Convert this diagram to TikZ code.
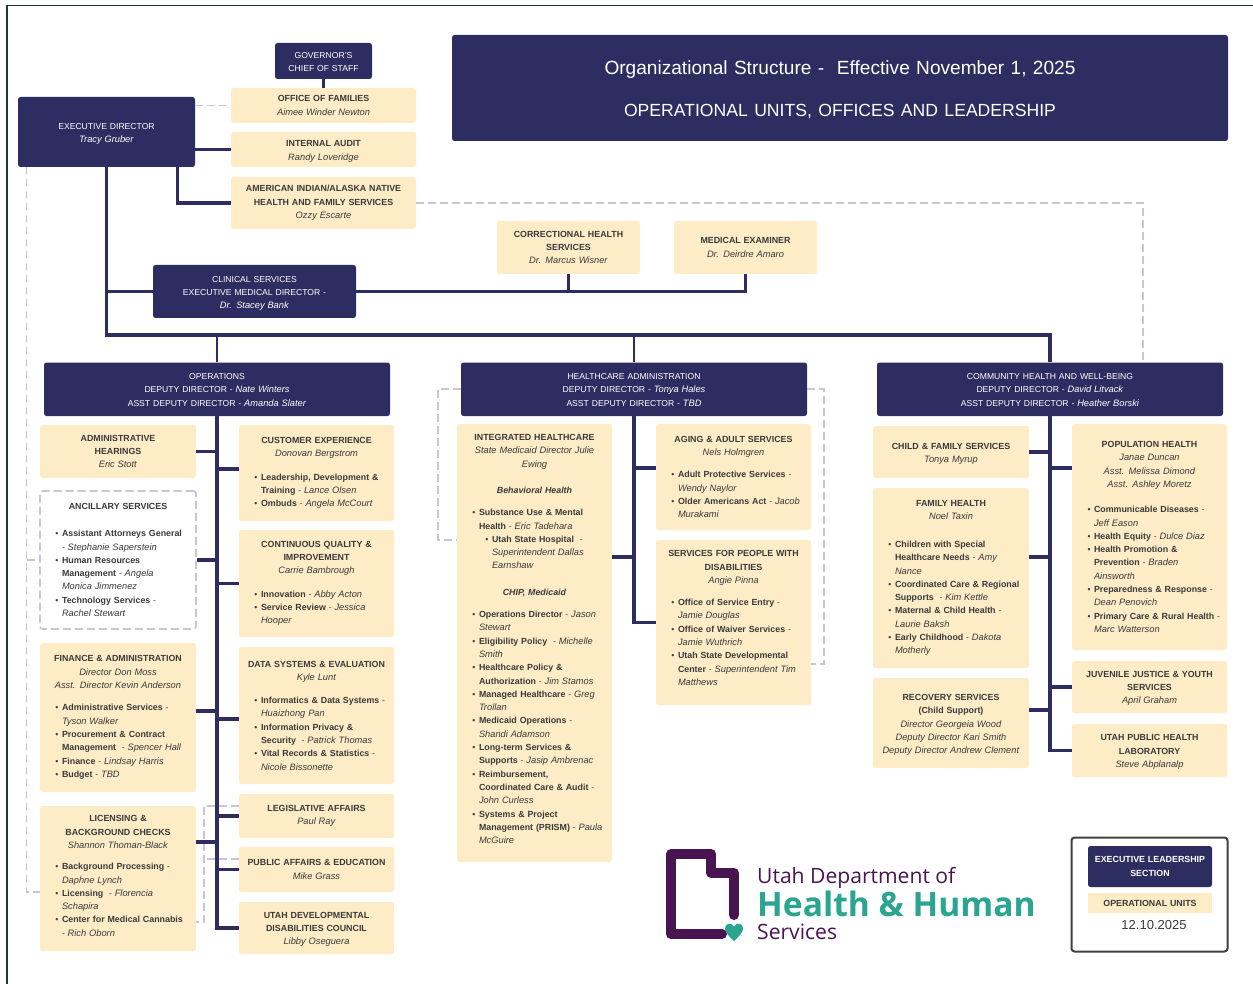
\documentclass[tikz,border=0pt]{standalone}
\usepackage{fontspec}
\setmainfont{Liberation Sans}[BoldFeatures={Scale=1.03},ItalicFeatures={Scale=1.08},BoldItalicFeatures={Scale=1.03}]
\newfontfamily\logofont{Open Sans}
\definecolor{dhhsnavy}{RGB}{46,45,98}
\definecolor{dhhscream}{RGB}{254,236,198}
\definecolor{dhhstext}{RGB}{58,58,58}
\definecolor{dhhsdash}{RGB}{197,197,220}
\definecolor{dhhsframe}{RGB}{30,58,42}
\definecolor{dhhspurple}{RGB}{72,20,82}
\definecolor{dhhsteal}{RGB}{42,165,143}
\newcommand{\bul}[1]{\leavevmode\hbox to\hsize{\hspace{22pt}\llap{\textbullet\hspace{3.5pt}}#1\hfil}}
\newcommand{\cnt}[1]{\leavevmode\hbox to\hsize{\hspace{22pt}#1\hfil}}
\newcommand{\subbul}[1]{\leavevmode\hbox to\hsize{\hspace{35pt}\llap{\textbullet\hspace{3.5pt}}#1\hfil}}
\newcommand{\subcnt}[1]{\leavevmode\hbox to\hsize{\hspace{35pt}#1\hfil}}
\newcommand{\lift}[1]{\\[\dimexpr#1pt*2-\baselineskip\relax]\mbox{}}
\tikzset{
    box size/.style 2 args={text width=#1pt,minimum width=#1pt,minimum height=#2pt},
    unit box/.style={
        rectangle,
        rounded corners=2.5pt,
        fill=dhhscream,
        text=dhhstext,
        inner xsep=0pt,
        inner ysep=0pt,
        align=center,
        font=\fontsize{8.6}{13.3}\selectfont,
    },
    lead box/.style={unit box,fill=dhhsnavy,text=white},
    dash box/.style={unit box,fill=none,draw=dhhsdash,line width=1.6pt,dash pattern=on 8pt off 4pt},
    conn/.style={draw=dhhsnavy,line width=3.5pt},
    thin conn/.style={draw=dhhsnavy,line width=2.8pt},
    dash conn/.style={draw=dhhsdash,line width=1.6pt,dash pattern=on 8pt off 4pt},
    logo text/.style={anchor=base west,inner sep=0pt,font=\logofont},
}
\begin{document}
\begin{tikzpicture}[x=1pt,y=-1pt]
\useasboundingbox (0,0) rectangle (1253,984);
\fill[white] (0,0) rectangle (1253,984);
\draw[dhhsframe,line width=1.8pt] (7,984) -- (7,5.5) -- (1253,5.5);

%Title
\node[lead box,box size={776}{106},font=\fontsize{19.1}{42}\selectfont] (title) at (840,88) {Organizational Structure -\ \ Effective November 1, 2025\\{\fontsize{17.6}{42}\selectfont OPERATIONAL UNITS, OFFICES AND LEADERSHIP}\lift{-1}};

%Executive level
\node[lead box,box size={97}{36}] (gov) at (323.5,61) {GOVERNOR'S\\CHIEF OF STAFF\lift{-1}};
\node[lead box,box size={177}{70}] (exec) at (106.5,132) {EXECUTIVE DIRECTOR\\\textit{Tracy Gruber}\lift{-1}};
\node[unit box,box size={185}{35}] (families) at (323.5,105.5) {\textbf{OFFICE OF FAMILIES}\\\textit{Aimee Winder Newton}};
\node[unit box,box size={185}{35}] (audit) at (323.5,149.5) {\textbf{INTERNAL AUDIT}\\\textit{Randy Loveridge}\lift{-1}};
\node[unit box,box size={185}{52}] (aian) at (323.5,203) {\textbf{AMERICAN INDIAN/ALASKA NATIVE}\\\textbf{HEALTH AND FAMILY SERVICES}\\\textit{Ozzy Escarte}};
\node[lead box,box size={203}{53}] (clinical) at (254.5,291.5) {CLINICAL SERVICES\\EXECUTIVE MEDICAL DIRECTOR -\\\textit{Dr. Stacey Bank}\lift{-1}};
\node[unit box,box size={143}{53}] (correctional) at (568.5,247.5) {\textbf{CORRECTIONAL HEALTH}\\\textbf{SERVICES}\\\textit{Dr. Marcus Wisner}};
\node[unit box,box size={143}{53}] (examiner) at (745.5,247.5) {\textbf{MEDICAL EXAMINER}\\\textit{Dr. Deirdre Amaro}};

%Deputy directors
\node[lead box,box size={346}{53.5}] (ops) at (217,389.25) {OPERATIONS\\DEPUTY DIRECTOR - \textit{Nate Winters}\\ASST DEPUTY DIRECTOR - \textit{Amanda Slater}\lift{-0.7}};
\node[lead box,box size={346}{53.5}] (hca) at (634,389.25) {HEALTHCARE ADMINISTRATION\\DEPUTY DIRECTOR - \textit{Tonya Hales}\\ASST DEPUTY DIRECTOR - \textit{TBD}\lift{-0.7}};
\node[lead box,box size={346}{53.5}] (chw) at (1050,389.25) {COMMUNITY HEALTH AND WELL-BEING\\DEPUTY DIRECTOR - \textit{David Litvack}\\ASST DEPUTY DIRECTOR - \textit{Heather Borski}\lift{-0.7}};

%Operations, left column
\node[unit box,box size={156}{53}] (hearings) at (118,451.5) {\textbf{ADMINISTRATIVE}\\\textbf{HEARINGS}\\\textit{Eric Stott}};
\node[dash box,box size={156}{138}] (ancillary) at (118,560) {\textbf{ANCILLARY SERVICES}\\[14pt]
\bul{\textbf{Assistant Attorneys General}}\\
\cnt{- \textit{Stephanie Saperstein}}\\
\bul{\textbf{Human Resources}}\\
\cnt{\textbf{Management} - \textit{Angela}}\\
\cnt{\textit{Monica Jimmenez}}\\
\bul{\textbf{Technology Services} -}\\
\cnt{\textit{Rachel Stewart}}};
\node[unit box,box size={156}{149}] (finance) at (118,717.5) {\textbf{FINANCE \& ADMINISTRATION}\\\textit{Director Don Moss}\\\textit{Asst. Director Kevin Anderson}\\[9pt]
\bul{\textbf{Administrative Services} -}\\
\cnt{\textit{Tyson Walker}}\\
\bul{\textbf{Procurement \& Contract}}\\
\cnt{\textbf{Management}\ \ - \textit{Spencer Hall}}\\
\bul{\textbf{Finance} - \textit{Lindsay Harris}}\\
\bul{\textbf{Budget} - \textit{TBD}}};
\node[unit box,box size={156}{145}] (licensing) at (118,878.5) {\textbf{LICENSING \&}\\\textbf{BACKGROUND CHECKS}\\\textit{Shannon Thoman-Black}\\[8pt]
\bul{\textbf{Background Processing} -}\\
\cnt{\textit{Daphne Lynch}}\\
\bul{\textbf{Licensing}\ \ - \textit{Florencia}}\\
\cnt{\textit{Schapira}}\\
\bul{\textbf{Center for Medical Cannabis}}\\
\cnt{- \textit{Rich Oborn}}\lift{2.5}};

%Operations, right column
\node[unit box,box size={155}{96}] (customer) at (316.5,473) {\textbf{CUSTOMER EXPERIENCE}\\\textit{Donovan Bergstrom}\\[10pt]
\bul{\textbf{Leadership, Development \&}}\\
\cnt{\textbf{Training} - \textit{Lance Olsen}}\\
\bul{\textbf{Ombuds} - \textit{Angela McCourt}}};
\node[unit box,box size={155}{107}] (quality) at (316.5,583.5) {\textbf{CONTINUOUS QUALITY \&}\\\textbf{IMPROVEMENT}\\\textit{Carrie Bambrough}\\[10pt]
\bul{\textbf{Innovation} - \textit{Abby Acton}}\\
\bul{\textbf{Service Review} - \textit{Jessica}}\\
\cnt{\textit{Hooper}}};
\node[unit box,box size={155}{137}] (data) at (316.5,715.5) {\textbf{DATA SYSTEMS \& EVALUATION}\\\textit{Kyle Lunt}\\[10pt]
\bul{\textbf{Informatics \& Data Systems} -}\\
\cnt{\textit{Huaizhong Pan}}\\
\bul{\textbf{Information Privacy \&}}\\
\cnt{\textbf{Security}\ \ - \textit{Patrick Thomas}}\\
\bul{\textbf{Vital Records \& Statistics} -}\\
\cnt{\textit{Nicole Bissonette}}};
\node[unit box,box size={155}{44}] (legislative) at (316.5,816) {\textbf{LEGISLATIVE AFFAIRS}\\\textit{Paul Ray}};
\node[unit box,box size={155}{45}] (public) at (316.5,869.5) {\textbf{PUBLIC AFFAIRS \& EDUCATION}\\\textit{Mike Grass}};
\node[unit box,box size={155}{52}] (uddc) at (316.5,928) {\textbf{UTAH DEVELOPMENTAL}\\\textbf{DISABILITIES COUNCIL}\\\textit{Libby Oseguera}\lift{-0.5}};

%Healthcare administration
\node[unit box,box size={155}{438}] (integrated) at (534.5,643) {\textbf{INTEGRATED HEALTHCARE}\\\textit{State Medicaid Director Julie}\\\textit{Ewing}\\[13.5pt]
\textbf{\textit{Behavioral Health}}\\[8.5pt]
\bul{\textbf{Substance Use \& Mental}}\\
\cnt{\textbf{Health} - \textit{Eric Tadehara}}\\
\subbul{\textbf{Utah State Hospital}\ \ -}\\
\subcnt{\textit{Superintendent Dallas}}\\
\subcnt{\textit{Earnshaw}}\\[13.5pt]
\textbf{\textit{CHIP, Medicaid}}\\[8.5pt]
\bul{\textbf{Operations Director} - \textit{Jason}}\\
\cnt{\textit{Stewart}}\\
\bul{\textbf{Eligibility Policy}\ \ - \textit{Michelle}}\\
\cnt{\textit{Smith}}\\
\bul{\textbf{Healthcare Policy \&}}\\
\cnt{\textbf{Authorization} - \textit{Jim Stamos}}\\
\bul{\textbf{Managed Healthcare} - \textit{Greg}}\\
\cnt{\textit{Trollan}}\\
\bul{\textbf{Medicaid Operations} -}\\
\cnt{\textit{Shandi Adamson}}\\
\bul{\textbf{Long-term Services \&}}\\
\cnt{\textbf{Supports} - \textit{Jasip Ambrenac}}\\
\bul{\textbf{Reimbursement,}}\\
\cnt{\textbf{Coordinated Care \& Audit} -}\\
\cnt{\textit{John Curless}}\\
\bul{\textbf{Systems \& Project}}\\
\cnt{\textbf{Management (PRISM)} - \textit{Paula}}\\
\cnt{\textit{McGuire}}\lift{4}};
\node[unit box,box size={155}{106}] (aging) at (733.5,477) {\textbf{AGING \& ADULT SERVICES}\\\textit{Nels Holmgren}\\[9pt]
\bul{\textbf{Adult Protective Services} -}\\
\cnt{\textit{Wendy Naylor}}\\
\bul{\textbf{Older Americans Act} - \textit{Jacob}}\\
\cnt{\textit{Murakami}}};
\node[unit box,box size={155}{165}] (disabilities) at (733.5,622.5) {\textbf{SERVICES FOR PEOPLE WITH}\\\textbf{DISABILITIES}\\\textit{Angie Pinna}\\[9pt]
\bul{\textbf{Office of Service Entry} -}\\
\cnt{\textit{Jamie Douglas}}\\
\bul{\textbf{Office of Waiver Services} -}\\
\cnt{\textit{Jamie Wuthrich}}\\
\bul{\textbf{Utah State Developmental}}\\
\cnt{\textbf{Center} - \textit{Superintendent Tim}}\\
\cnt{\textit{Matthews}}\lift{4.5}};

%Community health and well-being
\node[unit box,box size={156}{52}] (child) at (951,452) {\textbf{CHILD \& FAMILY SERVICES}\\\textit{Tonya Myrup}\lift{-1}};
\node[unit box,box size={156}{180}] (family) at (951,578) {\textbf{FAMILY HEALTH}\\\textit{Noel Taxin}\\[14.5pt]
\bul{\textbf{Children with Special}}\\
\cnt{\textbf{Healthcare Needs} - \textit{Amy}}\\
\cnt{\textit{Nance}}\\
\bul{\textbf{Coordinated Care \& Regional}}\\
\cnt{\textbf{Supports}\ \ - \textit{Kim Kettle}}\\
\bul{\textbf{Maternal \& Child Health} -}\\
\cnt{\textit{Laurie Baksh}}\\
\bul{\textbf{Early Childhood} - \textit{Dakota}}\\
\cnt{\textit{Motherly}}};
\node[unit box,box size={156}{90}] (recovery) at (951,723) {\textbf{RECOVERY SERVICES}\\\textbf{(Child Support)}\\\textit{Director Georgeia Wood}\\\textit{Deputy Director Kari Smith}\\\textit{Deputy Director Andrew Clement}\lift{-1}};
\node[unit box,box size={155}{226}] (population) at (1149.5,537) {\textbf{POPULATION HEALTH}\\\textit{Janae Duncan}\\\textit{Asst. Melissa Dimond}\\\textit{Asst. Ashley Moretz}\\[12pt]
\bul{\textbf{Communicable Diseases} -}\\
\cnt{\textit{Jeff Eason}}\\
\bul{\textbf{Health Equity} - \textit{Dulce Diaz}}\\
\bul{\textbf{Health Promotion \&}}\\
\cnt{\textbf{Prevention} - \textit{Braden}}\\
\cnt{\textit{Ainsworth}}\\
\bul{\textbf{Preparedness \& Response} -}\\
\cnt{\textit{Dean Penovich}}\\
\bul{\textbf{Primary Care \& Rural Health} -}\\
\cnt{\textit{Marc Watterson}}};
\node[unit box,box size={155}{52}] (juvenile) at (1149.5,687) {\textbf{JUVENILE JUSTICE \& YOUTH}\\\textbf{SERVICES}\\\textit{April Graham}\lift{-0.5}};
\node[unit box,box size={155}{53}] (uphl) at (1149.5,750.5) {\textbf{UTAH PUBLIC HEALTH}\\\textbf{LABORATORY}\\\textit{Steve Abplanalp}\lift{-0.5}};

%Free corners of the dashed lines
\coordinate (outerdash) at (26.5,167);
\coordinate (lgtop) at (204,806);
\coordinate (hcaleft) at (438,389.25);
\coordinate (hcaright) at (824,389.25);
\coordinate (busend) at (1050,335);

\draw[dash conn] (exec.east |- families.west) -- (families.west);
\draw[dash conn] (outerdash) |- ([yshift=-13.5]licensing.west);
\draw[dash conn] (ancillary.west -| outerdash) -- (ancillary.west);
\draw[dash conn] (aian.east) -| ([xshift=93]chw.north);
\draw[dash conn] ([yshift=10]legislative.west) -- (lgtop) |- ([yshift=-43.5]licensing.east);
\draw[dash conn] ([yshift=10.5]public.west) -- ([yshift=10.5]public.west -| lgtop);
\draw[dash conn] (hca.west) -- (hcaleft) |- ([yshift=103]integrated.west);
\draw[dash conn] (hca.east) -- (hcaright) |- ([yshift=-41.5]disabilities.east);

\draw[thin conn] (gov.south) -- (families.north);
\draw[conn] (exec.east |- audit.west) -- (audit.west);
\draw[conn] ([xshift=71]exec.south) |- (aian.west);
\draw[conn] (exec.south) |- (busend) -- (chw.north);
\draw[thin conn] (ops.north) -- (ops.north |- busend);
\draw[thin conn] (hca.north) -- (hca.north |- busend);
\draw[thin conn] (clinical.west) -- (clinical.west -| exec.south);
\draw[thin conn] (clinical.east) -| (examiner.south);
\draw[thin conn] (correctional.south) -- (correctional.south |- clinical.east);

\draw[conn] (ops.south) |- (uddc.west);
\draw[conn] (hearings.east) -- (hearings.east -| ops.south);
\draw[conn] (ancillary.east) -- (ancillary.east -| ops.south);
\draw[conn] ([yshift=6.5]finance.east) -- ([yshift=6.5]finance.east -| ops.south);
\draw[conn] ([yshift=36.5]licensing.east) -- ([yshift=36.5]licensing.east -| ops.south);
\draw[conn] ([yshift=4]customer.west) -- ([yshift=4]customer.west -| ops.south);
\draw[conn] (quality.west) -- (quality.west -| ops.south);
\draw[conn] ([yshift=-3.5]data.west) -- ([yshift=-3.5]data.west -| ops.south);
\draw[conn] (legislative.west) -- (legislative.west -| ops.south);
\draw[conn] (public.west) -- (public.west -| ops.south);

\draw[conn] (hca.south) |- (disabilities.west);
\draw[conn] ([yshift=86]integrated.east) -- ([yshift=86]integrated.east -| hca.south);
\draw[conn] ([yshift=9]aging.west) -- ([yshift=9]aging.west -| hca.south);

\draw[conn] (chw.south) |- (uphl.west);
\draw[conn] (child.east) -- (child.east -| chw.south);
\draw[conn] ([yshift=21]family.east) -- ([yshift=21]family.east -| chw.south);
\draw[conn] ([yshift=13]recovery.east) -- ([yshift=13]recovery.east -| chw.south);
\draw[conn] ([yshift=69]population.west) -- ([yshift=69]population.west -| chw.south);
\draw[conn] (juvenile.west) -- (juvenile.west -| chw.south);

%Logo
\draw[dhhspurple,line width=10pt,line join=round,line cap=round] (722,934) -- (671,934) -- (671,854) -- (711,854) -- (711,873) -- (734,873) -- (734,915);
\fill[dhhsteal] (734,941) .. controls (727,935) and (725,931) .. (725,928.5) .. controls (725,923) and (731.5,922) .. (734,926.5) .. controls (736.5,922) and (743,923) .. (743,928.5) .. controls (743,931) and (741,935) .. (734,941) -- cycle;
\node[logo text,text=dhhspurple,font=\logofont\fontsize{21.1}{24}\selectfont] (logotop) at (757,883) {Utah Department of};
\node[logo text,text=dhhsteal,font=\logofont\bfseries\fontsize{33.6}{38}\selectfont] (logomid) at (757,916.5) {Health \& Human};
\node[logo text,text=dhhspurple,font=\logofont\fontsize{21.1}{24}\selectfont] (logobot) at (757,939) {Services};

%Legend
\node[rectangle,rounded corners=3pt,draw=black!75,line width=2pt,minimum width=156pt,minimum height=114pt] (legend) at (1149.5,894.5) {};
\node[lead box,box size={124}{41}] (legendlead) at (1150,866.5) {\textbf{EXECUTIVE LEADERSHIP}\\\textbf{SECTION}};
\node[unit box,box size={124}{20},rounded corners=0pt] (legendunit) at (1150,903) {\textbf{OPERATIONAL UNITS}};
\node[inner sep=0pt,text=dhhstext,font=\fontsize{13}{15}\selectfont] (legenddate) at (1154,925) {12.10.2025};
\end{tikzpicture}
\end{document}
